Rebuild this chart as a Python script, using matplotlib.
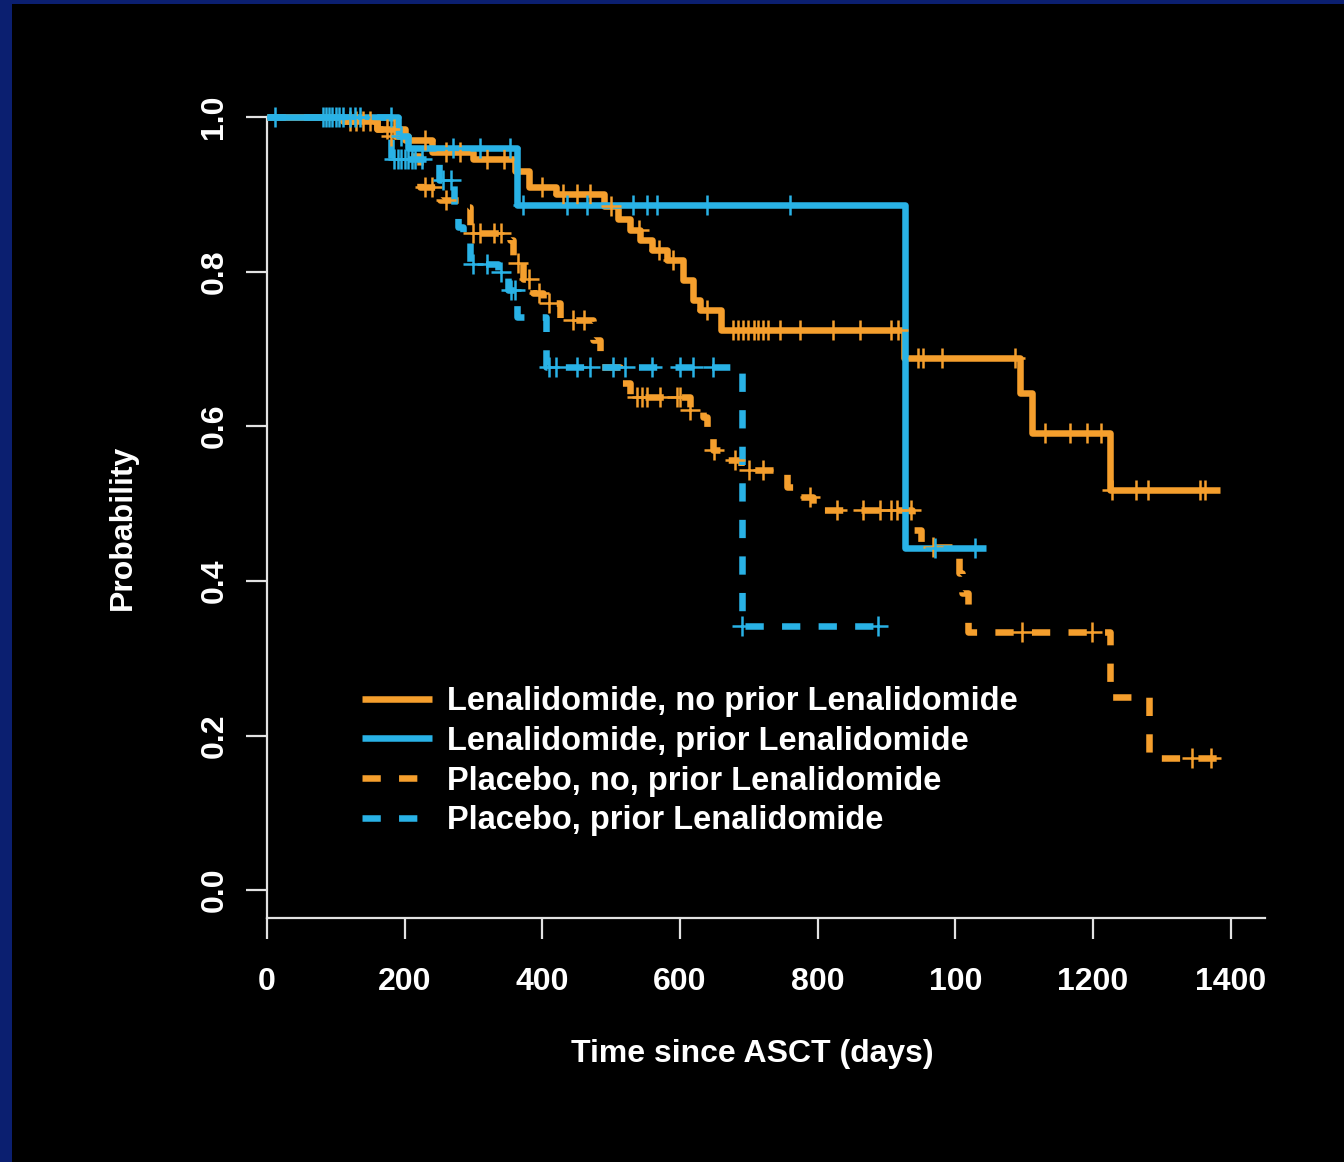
import numpy as np
import matplotlib
matplotlib.use("Agg")
import matplotlib.pyplot as plt
from matplotlib.patches import Rectangle
from matplotlib.lines import Line2D

plt.rcParams["font.family"] = ["Liberation Sans", "DejaVu Sans"]
plt.rcParams["font.weight"] = "bold"

ORANGE = "#F59F2D"
BLUE = "#29B2E6"
AXIS = "#E2E2E2"

# Lenalidomide, no prior Lenalidomide (orange solid)
len_no_t = [0, 110, 160, 200, 240, 300, 360, 380, 420, 490, 510, 528, 542, 560, 581,
            605, 619, 629, 660, 925, 1094, 1112, 1225]
len_no_s = [1.0, 0.995, 0.985, 0.97, 0.955, 0.945, 0.93, 0.91, 0.90, 0.885, 0.868, 0.854,
            0.841, 0.828, 0.815, 0.789, 0.763, 0.75, 0.724, 0.688, 0.643, 0.591, 0.517]
len_no_end = 1385
len_no_cens = [120, 140, 175, 185, 230, 260, 280, 320, 345, 400, 430, 450, 470, 500, 540,
               570, 590, 640, 677, 685, 692, 699, 707, 714, 721, 728, 746, 775, 823, 862,
               906, 917, 946, 953, 981, 1087, 1131, 1167, 1192, 1211, 1228, 1262, 1280,
               1356, 1363]

# Lenalidomide, prior Lenalidomide (blue solid)
len_pr_t = [0, 190, 205, 363, 927]
len_pr_s = [1.0, 0.975, 0.96, 0.886, 0.4425]
len_pr_end = 1044
len_pr_cens = [12, 81, 85, 90, 95, 100, 105, 110, 120, 128, 135, 180, 195, 270, 310, 353,
               372, 436, 465, 532, 552, 567, 640, 760, 970, 1029]

# Placebo, no prior Lenalidomide (orange dashed)
plc_no_t = [0, 110, 160, 175, 205, 222, 251, 285, 295, 353, 358, 372, 387, 401, 426, 474,
            484, 513, 528, 615, 634, 640, 648, 663, 688, 741, 756, 770, 794, 937, 950,
            1005, 1010, 1019, 1225, 1281]
plc_no_s = [1.0, 0.995, 0.985, 0.975, 0.95, 0.909, 0.893, 0.884, 0.85, 0.841, 0.811, 0.79,
            0.772, 0.759, 0.737, 0.711, 0.677, 0.656, 0.638, 0.621, 0.612, 0.586, 0.569,
            0.556, 0.543, 0.539, 0.521, 0.508, 0.492, 0.466, 0.444, 0.41, 0.384, 0.334,
            0.25, 0.171]
plc_no_end = 1390
plc_no_cens = [130, 150, 180, 230, 240, 260, 300, 310, 330, 340, 365, 380, 395, 410, 445,
               460, 538, 545, 552, 571, 596, 600, 615, 650, 680, 700, 720, 789, 828, 866,
               891, 906, 916, 935, 968, 1097, 1199, 1344, 1371]

# Placebo, prior Lenalidomide (blue dashed)
plc_pr_t = [0, 180, 250, 272, 278, 285, 295, 335, 350, 363, 405, 690]
plc_pr_s = [1.0, 0.945, 0.918, 0.885, 0.858, 0.84, 0.81, 0.80, 0.776, 0.741, 0.677, 0.3415]
plc_pr_end = 898
plc_pr_cens = [185, 190, 195, 200, 205, 210, 215, 225, 255, 268, 300, 320, 340, 355, 360,
               410, 420, 450, 470, 503, 520, 560, 600, 619, 648, 690, 888]

labels = ["Lenalidomide, no prior Lenalidomide", "Lenalidomide, prior Lenalidomide",
          "Placebo, no, prior Lenalidomide", "Placebo, prior Lenalidomide"]
x_ticks = [0, 200, 400, 600, 800, 1000, 1200, 1400]
x_ticklabels = ["0", "200", "400", "600", "800", "100", "1200", "1400"]
y_ticks = [0.0, 0.2, 0.4, 0.6, 0.8, 1.0]

W, H = 1344, 1162
fig = plt.figure(figsize=(W / 100, H / 100), dpi=100, facecolor="#0B1F70")
fig.patches.append(Rectangle((12 / W, 0), 1 - 12 / W, 1 - 4 / H, transform=fig.transFigure,
                             facecolor="black", edgecolor="none", zorder=-10))

ax = fig.add_axes([267 / W, 1 - 918 / H, 998 / W, 832 / H])
ax.set_facecolor("none")

DASH = (2.8, 2.8)
curves = [
    (len_no_t, len_no_s, len_no_end, len_no_cens, ORANGE, "-"),
    (plc_no_t, plc_no_s, plc_no_end, plc_no_cens, ORANGE, "--"),
    (len_pr_t, len_pr_s, len_pr_end, len_pr_cens, BLUE, "-"),
    (plc_pr_t, plc_pr_s, plc_pr_end, plc_pr_cens, BLUE, "--"),
]
for t, s, end, cens, col, ls in curves:
    t_all = np.array(t + [end], dtype=float)
    s_all = np.array(s + [s[-1]])
    line, = ax.step(t_all, s_all, where="post", color=col, lw=4.7,
                    solid_capstyle="butt", dash_capstyle="butt", zorder=3)
    if ls == "--":
        line.set_dashes(DASH)
    idx = np.searchsorted(t, cens, side="right") - 1
    ax.plot(cens, np.array(s)[idx], ls="none", marker="+", ms=15, mew=1.8,
            color=col, zorder=4)

ax.set_xlim(0, 1450)
ax.set_ylim(-0.036, 1.04)
ax.set_xticks(x_ticks)
ax.set_xticklabels(x_ticklabels)
ax.set_yticks(y_ticks)
ax.set_yticklabels([f"{v:.1f}" for v in y_ticks])

for side in ["top", "right"]:
    ax.spines[side].set_visible(False)
for side in ["left", "bottom"]:
    ax.spines[side].set_color(AXIS)
    ax.spines[side].set_linewidth(1.6)
ax.spines["left"].set_bounds(-0.036, 1.0)

ax.tick_params(colors=AXIS, width=1.6, length=15, labelsize=23, labelcolor="white")
ax.tick_params(axis="x", pad=20)
ax.tick_params(axis="y", labelrotation=90, pad=12)
for lab in ax.get_yticklabels():
    lab.set_va("center")
for lab in ax.get_xticklabels() + ax.get_yticklabels():
    lab.set_fontweight("bold")

handles = [
    Line2D([], [], color=ORANGE, lw=4.7, solid_capstyle="butt"),
    Line2D([], [], color=BLUE, lw=4.7, solid_capstyle="butt"),
    Line2D([], [], color=ORANGE, lw=4.7, dashes=DASH, dash_capstyle="butt"),
    Line2D([], [], color=BLUE, lw=4.7, dashes=DASH, dash_capstyle="butt"),
]
ax.legend(handles, labels, loc="upper left", bbox_to_anchor=(362 / W, 1 - 686 / H),
          bbox_transform=fig.transFigure, frameon=False, borderpad=0, borderaxespad=0,
          handlelength=2.15, handletextpad=0.45, labelspacing=0.27,
          labelcolor="white", prop={"weight": "bold", "size": 23.5})

fig.text(123 / W, 1 - 527 / H, "Probability", rotation=90, ha="center", va="center",
         color="white", fontsize=23, fontweight="bold")
fig.text(752 / W, 1 - 1054 / H, "Time since ASCT (days)", ha="center", va="center",
         color="white", fontsize=23, fontweight="bold")

fig.savefig("out.png", dpi=100, facecolor=fig.get_facecolor())
